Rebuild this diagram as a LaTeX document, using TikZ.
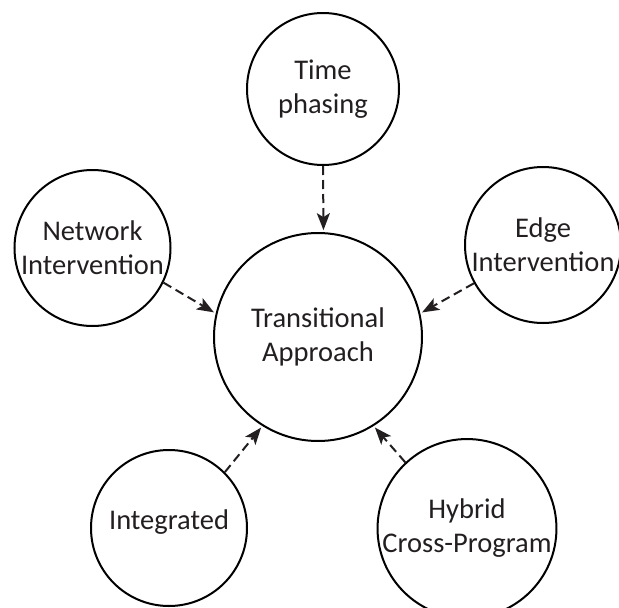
\documentclass[tikz,border=0pt]{standalone}
\usepackage{fontspec}
\setmainfont{Carlito}
\usetikzlibrary{arrows.meta}
\definecolor{ink}{HTML}{231F20}
\tikzset{
  circ/.style={circle, draw=black, line width=2pt, inner sep=0pt, align=center,
    text=ink, font=\fontsize{28.5}{34}\selectfont},
  small/.style={circ, minimum size=156pt},
  big/.style={circ, minimum size=208pt},
  conn/.style={draw=ink, line width=2pt, dash pattern=on 9pt off 5pt,
    -{Stealth[length=17pt,width=13pt,inset=4pt]}, shorten >=2pt}
}
\begin{document}
\begin{tikzpicture}[x=1pt,y=-1pt]
\useasboundingbox (0,0) rectangle (619,608);
\node[big] (trans) at (318,337) {Transitional\\Approach};
\node[small, minimum size=152pt] (time) at (323,89) {Time\\phasing};
\node[small] (net) at (92.5,248) {Network\\Intervention};
\node[small] (edge) at (543,245) {Edge\\Intervention};
\node[small] (integ) at (169,528) {\raisebox{17pt}{Integrated}};
\node[small] (hyb) at (467,528.5) {Hybrid\\Cross-Program};
\draw[conn] (time.-90) -- (trans.87);
\draw[conn] (net.-26) -- (trans.167);
\draw[conn] (edge.209.6) -- (trans.13);
\draw[conn] (integ.45) -- (trans.238);
\draw[conn] (hyb.133.7) -- (trans.-58.6);
\end{tikzpicture}
\end{document}
